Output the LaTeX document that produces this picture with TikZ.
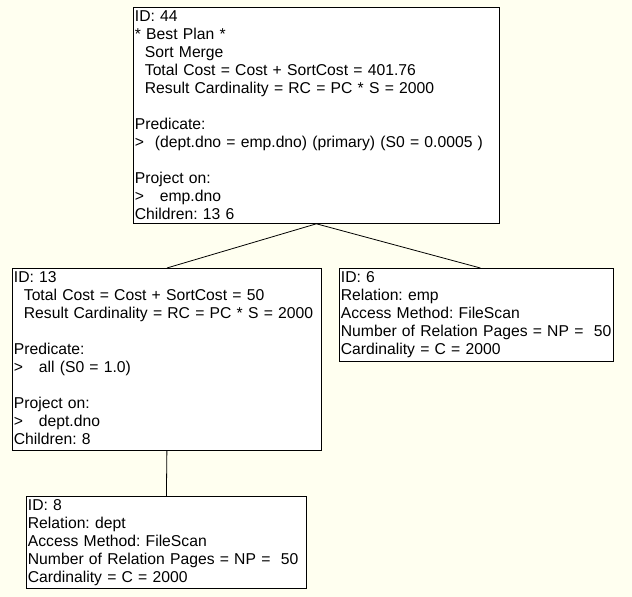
\documentclass[tikz,border=0pt]{standalone}
\usepackage{fontspec}
\setmainfont{Liberation Sans}
\usepackage{xcolor}
\definecolor{ivory}{RGB}{255,255,240}
\newcommand{\gtmark}[1][25pt]{\makebox[#1][l]{>}}
\newcommand{\ind}{\hspace*{10pt}}
\newcommand{\firstln}{\rule{0pt}{14pt}}
\frenchspacing

\begin{document}
\begin{tikzpicture}[x=1pt, y=1pt, line width=0.8pt,
    plan/.style = {draw, rectangle, fill=white, anchor=north west, align=left,
        inner xsep=1.5pt, inner ysep=0pt,
        font=\fontsize{15.7}{18}\selectfont}]
            \fill[ivory] (0,0) rectangle (632,-597);
            \useasboundingbox (0,0) rectangle (632,-597);

            \node[plan, text width=363pt, text depth=202pt] (44) at (133,-7) {\firstln ID: 44\\
                {*} Best Plan {*}\\
                \ind Sort Merge\\
                \ind Total Cost = Cost + SortCost = 401.76\\
                \ind Result Cardinality = RC = PC * S = 2000\\[18pt]
                Predicate:\\
                \gtmark[20pt]\mbox{(dept.dno = emp.dno) (primary) (S0 = 0.0005 )}\\[18pt]
                Project on:\\
                \gtmark emp.dno\\
                Children: 13 6};
            \node[plan, text width=306pt, text depth=168pt] (13) at (12,-268) {\firstln ID: 13\\
                \ind Total Cost = Cost + SortCost = 50\\
                \ind\mbox{Result Cardinality = RC = PC * S = 2000}\\[18pt]
                Predicate:\\
                \gtmark all (S0 = 1.0)\\[18pt]
                Project on:\\
                \gtmark dept.dno\\
                Children: 8};
            \node[plan, text width=271pt, text depth=79pt] (6) at (339,-268) {\firstln ID: 6\\
                Relation: emp\\
                Access Method: FileScan\\
                \mbox{Number of Relation Pages = NP = \ 50}\\
                Cardinality = C = 2000};
            \node[plan, text width=277pt, text depth=78pt] (8) at (26,-496) {\firstln ID: 8\\
                Relation: dept\\
                Access Method: FileScan\\
                \mbox{Number of Relation Pages = NP = \ 50}\\
                Cardinality = C = 2000};

            \draw (44.south)--(13.north);
            \draw (44.south)--([xshift=4pt]6.north);
            \draw (13.south)--(8.north);
        \end{tikzpicture}
\end{document}
